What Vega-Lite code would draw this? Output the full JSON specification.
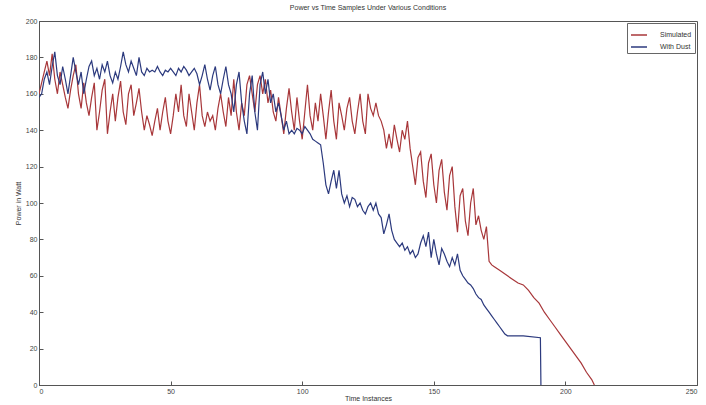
{
  "$schema": "https://vega.github.io/schema/vega-lite/v6.json",
  "autosize": "none",
  "width": 658,
  "height": 364,
  "padding": {"left": 39, "top": 21, "right": 9, "bottom": 20},
  "background": "white",
  "title": {"text": "Power vs Time Samples Under Various Conditions", "fontSize": 7, "fontWeight": "normal", "color": "#333", "font": "Liberation Sans", "offset": 6},
  "config": {
    "view": {"stroke": "#555", "strokeWidth": 1},
    "axis": {"labelFont": "Liberation Sans", "titleFont": "Liberation Sans", "labelFontSize": 7, "titleFontSize": 7, "titleFontWeight": "normal", "labelColor": "#444", "titleColor": "#333", "domainColor": "#555", "tickColor": "#555", "grid": false, "tickSize": -4, "labelPadding": 6},
    "legend": {"labelFont": "Liberation Sans", "labelFontSize": 7, "labelColor": "#333"}
  },
  "data": {"values": [
{"t":0,"p":160,"s":"Simulated"},{"t":1,"p":166,"s":"Simulated"},{"t":2,"p":172,"s":"Simulated"},{"t":3,"p":178,"s":"Simulated"},{"t":4,"p":170,"s":"Simulated"},{"t":5,"p":182,"s":"Simulated"},{"t":6,"p":168,"s":"Simulated"},{"t":7,"p":160,"s":"Simulated"},{"t":8,"p":172,"s":"Simulated"},{"t":9,"p":165,"s":"Simulated"},{"t":10,"p":158,"s":"Simulated"},{"t":11,"p":152,"s":"Simulated"},{"t":12,"p":162,"s":"Simulated"},{"t":13,"p":170,"s":"Simulated"},{"t":14,"p":176,"s":"Simulated"},{"t":15,"p":160,"s":"Simulated"},{"t":16,"p":152,"s":"Simulated"},{"t":17,"p":166,"s":"Simulated"},{"t":18,"p":155,"s":"Simulated"},{"t":19,"p":148,"s":"Simulated"},{"t":20,"p":158,"s":"Simulated"},{"t":21,"p":166,"s":"Simulated"},{"t":22,"p":140,"s":"Simulated"},{"t":23,"p":150,"s":"Simulated"},{"t":24,"p":162,"s":"Simulated"},{"t":25,"p":168,"s":"Simulated"},{"t":26,"p":138,"s":"Simulated"},{"t":27,"p":150,"s":"Simulated"},{"t":28,"p":160,"s":"Simulated"},{"t":29,"p":145,"s":"Simulated"},{"t":30,"p":158,"s":"Simulated"},{"t":31,"p":167,"s":"Simulated"},{"t":32,"p":150,"s":"Simulated"},{"t":33,"p":143,"s":"Simulated"},{"t":34,"p":160,"s":"Simulated"},{"t":35,"p":165,"s":"Simulated"},{"t":36,"p":148,"s":"Simulated"},{"t":37,"p":155,"s":"Simulated"},{"t":38,"p":163,"s":"Simulated"},{"t":39,"p":150,"s":"Simulated"},{"t":40,"p":140,"s":"Simulated"},{"t":41,"p":148,"s":"Simulated"},{"t":42,"p":143,"s":"Simulated"},{"t":43,"p":137,"s":"Simulated"},{"t":44,"p":145,"s":"Simulated"},{"t":45,"p":152,"s":"Simulated"},{"t":46,"p":140,"s":"Simulated"},{"t":47,"p":150,"s":"Simulated"},{"t":48,"p":158,"s":"Simulated"},{"t":49,"p":145,"s":"Simulated"},{"t":50,"p":138,"s":"Simulated"},{"t":51,"p":148,"s":"Simulated"},{"t":52,"p":160,"s":"Simulated"},{"t":53,"p":150,"s":"Simulated"},{"t":54,"p":165,"s":"Simulated"},{"t":55,"p":148,"s":"Simulated"},{"t":56,"p":142,"s":"Simulated"},{"t":57,"p":160,"s":"Simulated"},{"t":58,"p":150,"s":"Simulated"},{"t":59,"p":140,"s":"Simulated"},{"t":60,"p":155,"s":"Simulated"},{"t":61,"p":165,"s":"Simulated"},{"t":62,"p":148,"s":"Simulated"},{"t":63,"p":142,"s":"Simulated"},{"t":64,"p":150,"s":"Simulated"},{"t":65,"p":145,"s":"Simulated"},{"t":66,"p":148,"s":"Simulated"},{"t":67,"p":140,"s":"Simulated"},{"t":68,"p":152,"s":"Simulated"},{"t":69,"p":160,"s":"Simulated"},{"t":70,"p":150,"s":"Simulated"},{"t":71,"p":142,"s":"Simulated"},{"t":72,"p":158,"s":"Simulated"},{"t":73,"p":148,"s":"Simulated"},{"t":74,"p":168,"s":"Simulated"},{"t":75,"p":150,"s":"Simulated"},{"t":76,"p":140,"s":"Simulated"},{"t":77,"p":155,"s":"Simulated"},{"t":78,"p":148,"s":"Simulated"},{"t":79,"p":165,"s":"Simulated"},{"t":80,"p":170,"s":"Simulated"},{"t":81,"p":160,"s":"Simulated"},{"t":82,"p":150,"s":"Simulated"},{"t":83,"p":165,"s":"Simulated"},{"t":84,"p":170,"s":"Simulated"},{"t":85,"p":160,"s":"Simulated"},{"t":86,"p":168,"s":"Simulated"},{"t":87,"p":155,"s":"Simulated"},{"t":88,"p":162,"s":"Simulated"},{"t":89,"p":150,"s":"Simulated"},{"t":90,"p":145,"s":"Simulated"},{"t":91,"p":158,"s":"Simulated"},{"t":92,"p":148,"s":"Simulated"},{"t":93,"p":138,"s":"Simulated"},{"t":94,"p":152,"s":"Simulated"},{"t":95,"p":163,"s":"Simulated"},{"t":96,"p":150,"s":"Simulated"},{"t":97,"p":140,"s":"Simulated"},{"t":98,"p":158,"s":"Simulated"},{"t":99,"p":145,"s":"Simulated"},{"t":100,"p":135,"s":"Simulated"},{"t":101,"p":150,"s":"Simulated"},{"t":102,"p":165,"s":"Simulated"},{"t":103,"p":148,"s":"Simulated"},{"t":104,"p":140,"s":"Simulated"},{"t":105,"p":155,"s":"Simulated"},{"t":106,"p":145,"s":"Simulated"},{"t":107,"p":160,"s":"Simulated"},{"t":108,"p":148,"s":"Simulated"},{"t":109,"p":135,"s":"Simulated"},{"t":110,"p":150,"s":"Simulated"},{"t":111,"p":162,"s":"Simulated"},{"t":112,"p":145,"s":"Simulated"},{"t":113,"p":135,"s":"Simulated"},{"t":114,"p":155,"s":"Simulated"},{"t":115,"p":148,"s":"Simulated"},{"t":116,"p":140,"s":"Simulated"},{"t":117,"p":152,"s":"Simulated"},{"t":118,"p":158,"s":"Simulated"},{"t":119,"p":145,"s":"Simulated"},{"t":120,"p":138,"s":"Simulated"},{"t":121,"p":150,"s":"Simulated"},{"t":122,"p":160,"s":"Simulated"},{"t":123,"p":145,"s":"Simulated"},{"t":124,"p":138,"s":"Simulated"},{"t":125,"p":160,"s":"Simulated"},{"t":126,"p":152,"s":"Simulated"},{"t":127,"p":148,"s":"Simulated"},{"t":128,"p":155,"s":"Simulated"},{"t":129,"p":148,"s":"Simulated"},{"t":130,"p":145,"s":"Simulated"},{"t":131,"p":140,"s":"Simulated"},{"t":132,"p":130,"s":"Simulated"},{"t":133,"p":138,"s":"Simulated"},{"t":134,"p":130,"s":"Simulated"},{"t":135,"p":143,"s":"Simulated"},{"t":136,"p":135,"s":"Simulated"},{"t":137,"p":128,"s":"Simulated"},{"t":138,"p":140,"s":"Simulated"},{"t":139,"p":135,"s":"Simulated"},{"t":140,"p":145,"s":"Simulated"},{"t":141,"p":130,"s":"Simulated"},{"t":142,"p":120,"s":"Simulated"},{"t":143,"p":110,"s":"Simulated"},{"t":144,"p":125,"s":"Simulated"},{"t":145,"p":128,"s":"Simulated"},{"t":146,"p":112,"s":"Simulated"},{"t":147,"p":103,"s":"Simulated"},{"t":148,"p":122,"s":"Simulated"},{"t":149,"p":127,"s":"Simulated"},{"t":150,"p":110,"s":"Simulated"},{"t":151,"p":100,"s":"Simulated"},{"t":152,"p":118,"s":"Simulated"},{"t":153,"p":124,"s":"Simulated"},{"t":154,"p":106,"s":"Simulated"},{"t":155,"p":96,"s":"Simulated"},{"t":156,"p":115,"s":"Simulated"},{"t":157,"p":120,"s":"Simulated"},{"t":158,"p":98,"s":"Simulated"},{"t":159,"p":84,"s":"Simulated"},{"t":160,"p":104,"s":"Simulated"},{"t":161,"p":108,"s":"Simulated"},{"t":162,"p":90,"s":"Simulated"},{"t":163,"p":82,"s":"Simulated"},{"t":164,"p":100,"s":"Simulated"},{"t":165,"p":108,"s":"Simulated"},{"t":166,"p":88,"s":"Simulated"},{"t":167,"p":93,"s":"Simulated"},{"t":168,"p":85,"s":"Simulated"},{"t":169,"p":80,"s":"Simulated"},{"t":170,"p":87,"s":"Simulated"},{"t":171,"p":68,"s":"Simulated"},{"t":172,"p":66,"s":"Simulated"},{"t":173,"p":65,"s":"Simulated"},{"t":175,"p":63,"s":"Simulated"},{"t":178,"p":60,"s":"Simulated"},{"t":180,"p":58,"s":"Simulated"},{"t":182,"p":56,"s":"Simulated"},{"t":184,"p":55,"s":"Simulated"},{"t":186,"p":52,"s":"Simulated"},{"t":188,"p":48,"s":"Simulated"},{"t":190,"p":45,"s":"Simulated"},{"t":192,"p":40,"s":"Simulated"},{"t":194,"p":36,"s":"Simulated"},{"t":196,"p":32,"s":"Simulated"},{"t":198,"p":28,"s":"Simulated"},{"t":200,"p":24,"s":"Simulated"},{"t":202,"p":20,"s":"Simulated"},{"t":204,"p":16,"s":"Simulated"},{"t":206,"p":12,"s":"Simulated"},{"t":208,"p":7,"s":"Simulated"},{"t":210,"p":3,"s":"Simulated"},{"t":211,"p":0,"s":"Simulated"},
{"t":0,"p":158,"s":"With Dust"},{"t":1,"p":160,"s":"With Dust"},{"t":2,"p":168,"s":"With Dust"},{"t":3,"p":172,"s":"With Dust"},{"t":4,"p":165,"s":"With Dust"},{"t":5,"p":175,"s":"With Dust"},{"t":6,"p":183,"s":"With Dust"},{"t":7,"p":170,"s":"With Dust"},{"t":8,"p":165,"s":"With Dust"},{"t":9,"p":175,"s":"With Dust"},{"t":10,"p":168,"s":"With Dust"},{"t":11,"p":160,"s":"With Dust"},{"t":12,"p":170,"s":"With Dust"},{"t":13,"p":180,"s":"With Dust"},{"t":14,"p":172,"s":"With Dust"},{"t":15,"p":165,"s":"With Dust"},{"t":16,"p":172,"s":"With Dust"},{"t":17,"p":160,"s":"With Dust"},{"t":18,"p":168,"s":"With Dust"},{"t":19,"p":175,"s":"With Dust"},{"t":20,"p":178,"s":"With Dust"},{"t":21,"p":170,"s":"With Dust"},{"t":22,"p":174,"s":"With Dust"},{"t":23,"p":168,"s":"With Dust"},{"t":24,"p":176,"s":"With Dust"},{"t":25,"p":172,"s":"With Dust"},{"t":26,"p":178,"s":"With Dust"},{"t":27,"p":170,"s":"With Dust"},{"t":28,"p":166,"s":"With Dust"},{"t":29,"p":172,"s":"With Dust"},{"t":30,"p":168,"s":"With Dust"},{"t":31,"p":175,"s":"With Dust"},{"t":32,"p":183,"s":"With Dust"},{"t":33,"p":176,"s":"With Dust"},{"t":34,"p":172,"s":"With Dust"},{"t":35,"p":178,"s":"With Dust"},{"t":36,"p":174,"s":"With Dust"},{"t":37,"p":170,"s":"With Dust"},{"t":38,"p":180,"s":"With Dust"},{"t":39,"p":172,"s":"With Dust"},{"t":40,"p":170,"s":"With Dust"},{"t":41,"p":174,"s":"With Dust"},{"t":42,"p":172,"s":"With Dust"},{"t":43,"p":173,"s":"With Dust"},{"t":44,"p":172,"s":"With Dust"},{"t":45,"p":175,"s":"With Dust"},{"t":46,"p":172,"s":"With Dust"},{"t":47,"p":170,"s":"With Dust"},{"t":48,"p":173,"s":"With Dust"},{"t":49,"p":172,"s":"With Dust"},{"t":50,"p":174,"s":"With Dust"},{"t":51,"p":172,"s":"With Dust"},{"t":52,"p":170,"s":"With Dust"},{"t":53,"p":174,"s":"With Dust"},{"t":54,"p":172,"s":"With Dust"},{"t":55,"p":175,"s":"With Dust"},{"t":56,"p":173,"s":"With Dust"},{"t":57,"p":170,"s":"With Dust"},{"t":58,"p":172,"s":"With Dust"},{"t":59,"p":174,"s":"With Dust"},{"t":60,"p":171,"s":"With Dust"},{"t":61,"p":165,"s":"With Dust"},{"t":62,"p":170,"s":"With Dust"},{"t":63,"p":176,"s":"With Dust"},{"t":64,"p":168,"s":"With Dust"},{"t":65,"p":162,"s":"With Dust"},{"t":66,"p":170,"s":"With Dust"},{"t":67,"p":175,"s":"With Dust"},{"t":68,"p":165,"s":"With Dust"},{"t":69,"p":160,"s":"With Dust"},{"t":70,"p":168,"s":"With Dust"},{"t":71,"p":175,"s":"With Dust"},{"t":72,"p":165,"s":"With Dust"},{"t":73,"p":160,"s":"With Dust"},{"t":74,"p":150,"s":"With Dust"},{"t":75,"p":165,"s":"With Dust"},{"t":76,"p":172,"s":"With Dust"},{"t":77,"p":155,"s":"With Dust"},{"t":78,"p":145,"s":"With Dust"},{"t":79,"p":138,"s":"With Dust"},{"t":80,"p":160,"s":"With Dust"},{"t":81,"p":170,"s":"With Dust"},{"t":82,"p":150,"s":"With Dust"},{"t":83,"p":140,"s":"With Dust"},{"t":84,"p":165,"s":"With Dust"},{"t":85,"p":172,"s":"With Dust"},{"t":86,"p":160,"s":"With Dust"},{"t":87,"p":168,"s":"With Dust"},{"t":88,"p":155,"s":"With Dust"},{"t":89,"p":160,"s":"With Dust"},{"t":90,"p":150,"s":"With Dust"},{"t":91,"p":155,"s":"With Dust"},{"t":92,"p":148,"s":"With Dust"},{"t":93,"p":140,"s":"With Dust"},{"t":94,"p":145,"s":"With Dust"},{"t":95,"p":138,"s":"With Dust"},{"t":96,"p":140,"s":"With Dust"},{"t":97,"p":138,"s":"With Dust"},{"t":98,"p":141,"s":"With Dust"},{"t":99,"p":140,"s":"With Dust"},{"t":100,"p":138,"s":"With Dust"},{"t":101,"p":142,"s":"With Dust"},{"t":102,"p":140,"s":"With Dust"},{"t":103,"p":138,"s":"With Dust"},{"t":104,"p":135,"s":"With Dust"},{"t":105,"p":134,"s":"With Dust"},{"t":106,"p":133,"s":"With Dust"},{"t":107,"p":132,"s":"With Dust"},{"t":108,"p":122,"s":"With Dust"},{"t":109,"p":110,"s":"With Dust"},{"t":110,"p":105,"s":"With Dust"},{"t":111,"p":112,"s":"With Dust"},{"t":112,"p":118,"s":"With Dust"},{"t":113,"p":108,"s":"With Dust"},{"t":114,"p":118,"s":"With Dust"},{"t":115,"p":105,"s":"With Dust"},{"t":116,"p":100,"s":"With Dust"},{"t":117,"p":104,"s":"With Dust"},{"t":118,"p":98,"s":"With Dust"},{"t":119,"p":103,"s":"With Dust"},{"t":120,"p":102,"s":"With Dust"},{"t":121,"p":98,"s":"With Dust"},{"t":122,"p":100,"s":"With Dust"},{"t":123,"p":96,"s":"With Dust"},{"t":124,"p":94,"s":"With Dust"},{"t":125,"p":98,"s":"With Dust"},{"t":126,"p":100,"s":"With Dust"},{"t":127,"p":96,"s":"With Dust"},{"t":128,"p":100,"s":"With Dust"},{"t":129,"p":94,"s":"With Dust"},{"t":130,"p":92,"s":"With Dust"},{"t":131,"p":83,"s":"With Dust"},{"t":132,"p":88,"s":"With Dust"},{"t":133,"p":94,"s":"With Dust"},{"t":134,"p":85,"s":"With Dust"},{"t":135,"p":80,"s":"With Dust"},{"t":136,"p":78,"s":"With Dust"},{"t":137,"p":76,"s":"With Dust"},{"t":138,"p":78,"s":"With Dust"},{"t":139,"p":74,"s":"With Dust"},{"t":140,"p":76,"s":"With Dust"},{"t":141,"p":72,"s":"With Dust"},{"t":142,"p":74,"s":"With Dust"},{"t":143,"p":70,"s":"With Dust"},{"t":144,"p":72,"s":"With Dust"},{"t":145,"p":78,"s":"With Dust"},{"t":146,"p":82,"s":"With Dust"},{"t":147,"p":76,"s":"With Dust"},{"t":148,"p":84,"s":"With Dust"},{"t":149,"p":70,"s":"With Dust"},{"t":150,"p":80,"s":"With Dust"},{"t":151,"p":72,"s":"With Dust"},{"t":152,"p":66,"s":"With Dust"},{"t":153,"p":75,"s":"With Dust"},{"t":154,"p":72,"s":"With Dust"},{"t":155,"p":68,"s":"With Dust"},{"t":156,"p":65,"s":"With Dust"},{"t":157,"p":70,"s":"With Dust"},{"t":158,"p":66,"s":"With Dust"},{"t":159,"p":72,"s":"With Dust"},{"t":160,"p":63,"s":"With Dust"},{"t":161,"p":60,"s":"With Dust"},{"t":162,"p":58,"s":"With Dust"},{"t":163,"p":56,"s":"With Dust"},{"t":164,"p":55,"s":"With Dust"},{"t":165,"p":53,"s":"With Dust"},{"t":166,"p":50,"s":"With Dust"},{"t":167,"p":48,"s":"With Dust"},{"t":168,"p":47,"s":"With Dust"},{"t":169,"p":44,"s":"With Dust"},{"t":170,"p":42,"s":"With Dust"},{"t":171,"p":40,"s":"With Dust"},{"t":172,"p":38,"s":"With Dust"},{"t":173,"p":36,"s":"With Dust"},{"t":174,"p":34,"s":"With Dust"},{"t":175,"p":32,"s":"With Dust"},{"t":176,"p":30,"s":"With Dust"},{"t":177,"p":28,"s":"With Dust"},{"t":178,"p":27,"s":"With Dust"},{"t":184,"p":27,"s":"With Dust"},{"t":190.5,"p":26,"s":"With Dust"},{"t":190.7,"p":0,"s":"With Dust"}
  ]},
  "mark": {"type": "line", "strokeWidth": 1.2, "clip": true},
  "encoding": {
    "x": {"field": "t", "type": "quantitative", "title": "Time Instances", "scale": {"domain": [0, 250], "nice": false}, "axis": {"values": [0, 50, 100, 150, 200, 250], "titlePadding": 0}},
    "y": {"field": "p", "type": "quantitative", "title": "Power in Watt", "scale": {"domain": [0, 200], "nice": false}, "axis": {"values": [0, 20, 40, 60, 80, 100, 120, 140, 160, 180, 200], "titlePadding": 4}},
    "color": {"field": "s", "type": "nominal", "scale": {"domain": ["Simulated", "With Dust"], "range": ["#a8373a", "#2c3a7e"]},
      "legend": {"title": null, "orient": "top-right", "offset": 2, "symbolType": "stroke", "symbolStrokeWidth": 1.5, "symbolSize": 256, "labelOffset": 12, "strokeColor": "#666", "fillColor": "white", "padding": 3, "rowPadding": 0, "labelFontSize": 7}}
  }
}
